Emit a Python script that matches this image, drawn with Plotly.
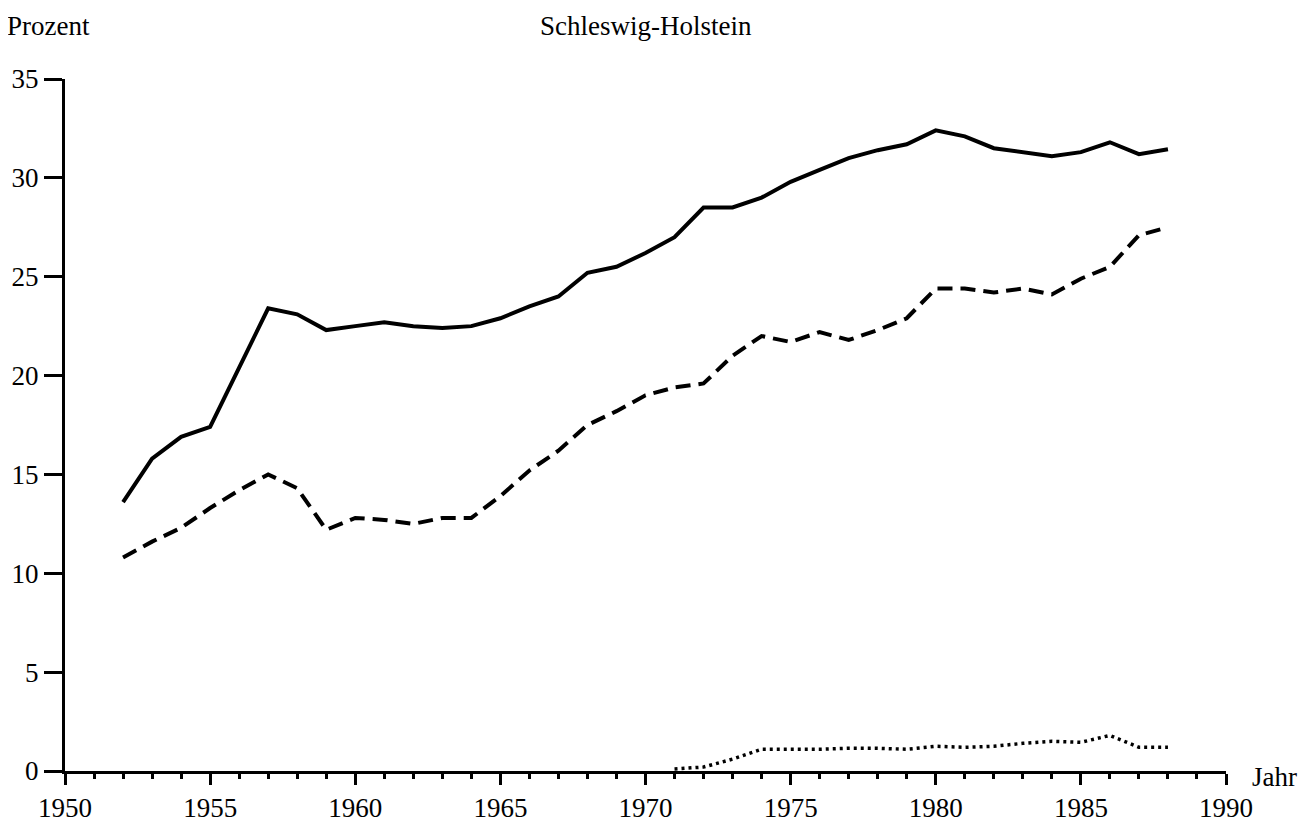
import plotly.graph_objects as go

years_main = list(range(1952, 1989))
solid_vals = [13.6, 15.8, 16.9, 17.4, 20.4, 23.4, 23.1, 22.3, 22.5, 22.7,
              22.5, 22.4, 22.5, 22.9, 23.5, 24.0, 25.2, 25.5, 26.2, 27.0,
              28.5, 28.5, 29.0, 29.8, 30.4, 31.0, 31.4, 31.7, 32.4, 32.1,
              31.5, 31.3, 31.1, 31.3, 31.8, 31.2, 31.45]
dashed_vals = [10.8, 11.6, 12.3, 13.3, 14.2, 15.0, 14.3, 12.2, 12.8, 12.7,
               12.5, 12.8, 12.8, 13.9, 15.2, 16.2, 17.5, 18.2, 19.0, 19.4,
               19.6, 21.0, 22.0, 21.7, 22.2, 21.8, 22.3, 22.9, 24.4, 24.4,
               24.2, 24.4, 24.1, 24.9, 25.5, 27.1, 27.5]
years_dot = list(range(1971, 1989))
dotted_vals = [0.1, 0.2, 0.6, 1.1, 1.1, 1.1, 1.15, 1.15, 1.1, 1.25,
               1.2, 1.25, 1.4, 1.5, 1.45, 1.8, 1.2, 1.2]

x_ticks = [1950, 1955, 1960, 1965, 1970, 1975, 1980, 1985, 1990]
y_ticks = [0, 5, 10, 15, 20, 25, 30, 35]

FONT = "Liberation Serif, Times New Roman, serif"
FS = 27

fig = go.Figure()
fig.add_trace(go.Scatter(x=years_main, y=solid_vals, mode="lines",
                         line=dict(color="black", width=4), showlegend=False))
fig.add_trace(go.Scatter(x=years_main, y=dashed_vals, mode="lines",
                         line=dict(color="black", width=4, dash="15px,8px"),
                         showlegend=False))
fig.add_trace(go.Scatter(x=years_dot, y=dotted_vals, mode="lines",
                         line=dict(color="black", width=3.5, dash="3px,4px"),
                         showlegend=False))

# page body has an 8px default margin: work in figure coords = reference - 8
OFF = 8
W, H = 1312 - OFF, 826 - OFF
L, T = 65 - OFF, 79 - OFF
R = W - (1226 - OFF)
B = H - (771 - OFF)
pw, ph = W - L - R, H - T - B


def px_x(x):
    return (x - OFF - L) / pw


def px_y(y):
    return 1 - (y - OFF - T) / ph


fig.update_layout(
    width=W, height=H,
    margin=dict(l=L, r=R, t=T, b=B, pad=0),
    paper_bgcolor="white", plot_bgcolor="white",
    font=dict(family=FONT, size=FS, color="black"),
    xaxis=dict(range=[1950, 1990], tickvals=x_ticks, ticktext=[str(v) for v in x_ticks],
               showgrid=False, zeroline=False, showline=True, linewidth=3,
               linecolor="black", ticks="outside", ticklen=11, tickwidth=3,
               tickcolor="black", tickfont=dict(family=FONT, size=FS, color="black"),
               minor=dict(dtick=1, tick0=1950, ticks="outside", ticklen=5,
                          tickwidth=2.5, tickcolor="black", showgrid=False),
               automargin=False, fixedrange=True),
    yaxis=dict(range=[0, 35], tickvals=y_ticks, ticktext=[str(v) for v in y_ticks],
               showgrid=False, zeroline=False, showline=True, linewidth=3,
               linecolor="black", ticks="outside", ticklen=18, tickwidth=3,
               tickcolor="black", tickfont=dict(family=FONT, size=FS, color="black"),
               automargin=False, fixedrange=True),
    annotations=[
        dict(text="Prozent", xref="paper", yref="paper",
             x=px_x(5), y=px_y(OFF + 1), xanchor="left", yanchor="top",
             showarrow=False, font=dict(family=FONT, size=FS, color="black")),
        dict(text="Schleswig-Holstein", xref="paper", yref="paper",
             x=px_x(646), y=px_y(OFF + 1), xanchor="center", yanchor="top",
             showarrow=False, font=dict(family=FONT, size=FS, color="black")),
        dict(text="Jahr", xref="paper", yref="paper",
             x=px_x(1250), y=px_y(777), xanchor="left", yanchor="middle",
             showarrow=False, font=dict(family=FONT, size=FS, color="black")),
    ],
)

fig.write_html("out.html")
